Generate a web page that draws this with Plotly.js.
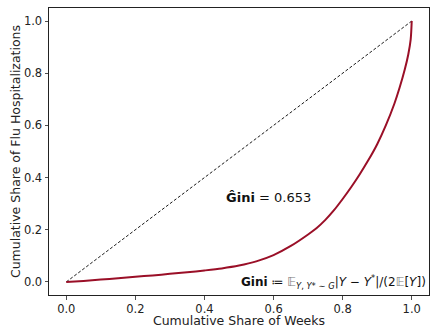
<!DOCTYPE html>
<html>
<head>
<meta charset="utf-8">
<script src="https://cdn.plot.ly/plotly-3.0.1.min.js"></script>
<style>html,body{margin:0;padding:0;background:#fff;}#chart{width:430px;height:328px;}</style>
</head>
<body>
<div id="chart"></div>
<script>
const shareWeeks = [0, 0.05, 0.1, 0.15, 0.2, 0.25, 0.3, 0.35, 0.4, 0.45, 0.5, 0.55, 0.6, 0.65, 0.7, 0.725, 0.75, 0.775, 0.8, 0.825, 0.85, 0.875, 0.9, 0.925, 0.95, 0.965, 0.98, 0.99, 0.997, 1.0];
const shareHosp = [0, 0.004, 0.009, 0.014, 0.020, 0.025, 0.031, 0.037, 0.044, 0.052, 0.063, 0.079, 0.103, 0.138, 0.182, 0.207, 0.238, 0.275, 0.318, 0.364, 0.414, 0.468, 0.528, 0.600, 0.684, 0.745, 0.815, 0.872, 0.930, 1.0];
const equality = [0, 1];
const giniValue = 0.653;
const tickVals = [0, 0.2, 0.4, 0.6, 0.8, 1.0];
const tickText = ['0.0', '0.2', '0.4', '0.6', '0.8', '1.0'];

const font = 'DejaVu Sans, sans-serif';
const data = [
  {x: equality, y: equality, mode: 'lines', line: {color: '#000', width: 0.9, dash: '3px,2px'}, hoverinfo: 'skip', showlegend: false},
  {x: shareWeeks, y: shareHosp, mode: 'lines', line: {color: '#9a0f27', width: 2, shape: 'spline', smoothing: 0.8}, showlegend: false}
];
const axisCommon = {
  showgrid: false, zeroline: false, showline: true, linecolor: '#222', linewidth: 1, mirror: true,
  ticks: 'outside', ticklen: 3.5, tickwidth: 0.8, tickcolor: '#222',
  tickvals: tickVals, ticktext: tickText, tickfont: {family: font, size: 11.5, color: '#222'}
};
const layout = {
  width: 430, height: 328,
  margin: {l: 49, r: 1, t: 8, b: 33},
  paper_bgcolor: '#fff', plot_bgcolor: '#fff',
  font: {family: font, color: '#222'},
  xaxis: Object.assign({}, axisCommon, {range: [-0.05, 1.05], title: {text: 'Cumulative Share of Weeks', font: {family: font, size: 12.5, color: '#222'}, standoff: 4}}),
  yaxis: Object.assign({}, axisCommon, {range: [-0.05, 1.05], title: {text: 'Cumulative Share of Flu Hospitalizations', font: {family: font, size: 12.5, color: '#222'}, standoff: 0}}),
  annotations: [
    {x: 0.458, y: 0.324, xref: 'x', yref: 'y', xanchor: 'left', yanchor: 'middle', showarrow: false,
     text: '<b>Ĝini</b> = ' + giniValue.toFixed(3), font: {family: font, size: 13, color: '#111'}},
    {x: 0.998, y: 0.0, xref: 'x domain', yref: 'y', xanchor: 'right', yanchor: 'middle', showarrow: false,
     text: '<b>Gini</b> ≔ <span style="color:#777">𝔼</span><sub><i>Y</i>, <i>Y</i>* ∼ <i>G</i></sub>|<i>Y</i> − <i>Y</i><sup>*</sup>|/(2<span style="color:#777">𝔼</span>[<i>Y</i>])',
     font: {family: font, size: 12, color: '#111'}}
  ]
};
Plotly.newPlot('chart', data, layout, {displayModeBar: false, staticPlot: true});
</script>
</body>
</html>
